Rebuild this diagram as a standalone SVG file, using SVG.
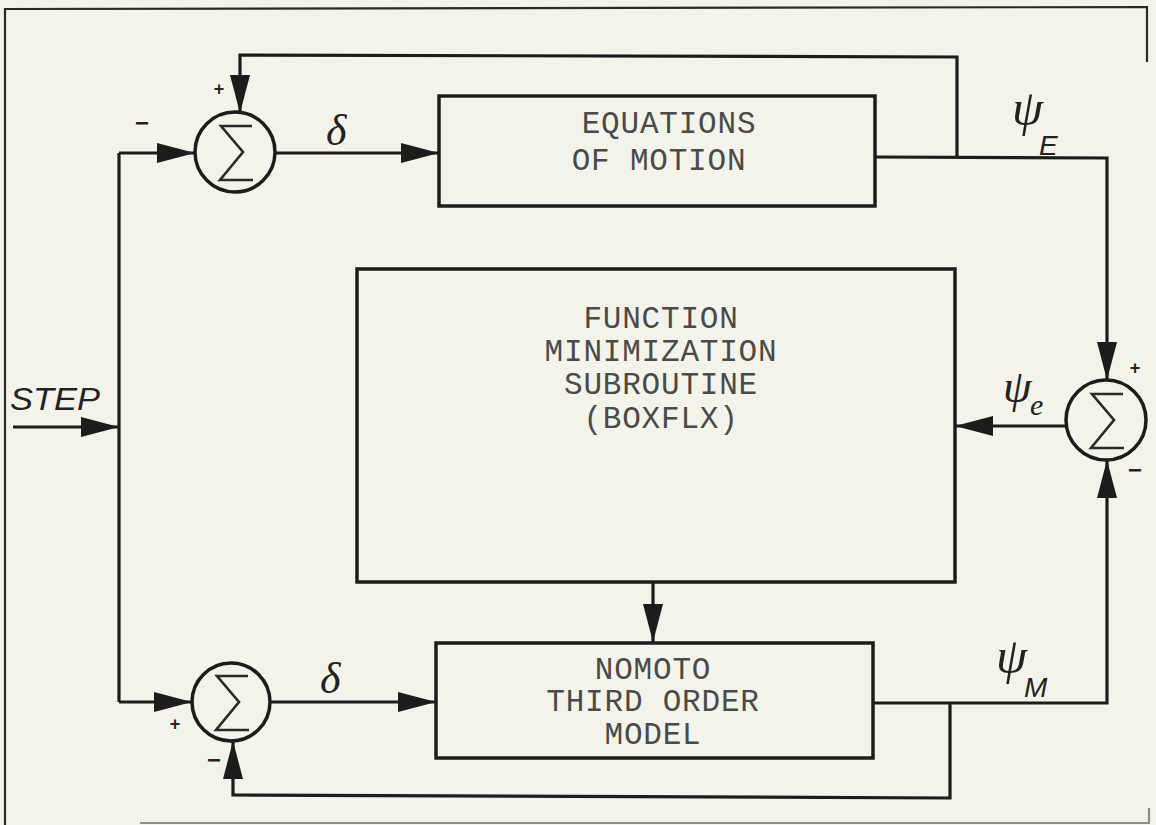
<svg xmlns="http://www.w3.org/2000/svg" width="1156" height="825" viewBox="0 0 1156 825">
<style>
.bg{fill:#f3f3e9}
.ln{fill:none;stroke:#1c1c1c;stroke-width:3.2;stroke-linejoin:miter}
.fr{fill:none;stroke:#2a2a2a;stroke-width:2.2}
.box{fill:none;stroke:#1c1c1c;stroke-width:3.5}
.sum{fill:none;stroke:#1c1c1c;stroke-width:3.5}
.sig{fill:none;stroke:#2a2a2a;stroke-width:2.6;stroke-linejoin:miter}
.tw{font-family:"Liberation Mono","DejaVu Sans Mono",monospace;font-size:31px;fill:#4a4a4a;text-anchor:middle;letter-spacing:0.8px}
.hw{font-family:"Liberation Serif","DejaVu Serif",serif;font-style:italic;fill:#222}
.sub{font-family:"Liberation Sans","DejaVu Sans",sans-serif;font-style:italic;fill:#222}
.pm{font-family:"Liberation Sans","DejaVu Sans",sans-serif;fill:#222;text-anchor:middle;font-weight:bold}
</style>
<defs>
<marker id="ah" viewBox="0 0 38 20" refX="38" refY="10" markerWidth="38" markerHeight="20" markerUnits="userSpaceOnUse" orient="auto">
<path d="M0,0 L38,10 L0,20 Z" fill="#1c1c1c"/>
</marker>
<symbol id="sigma" viewBox="-40 -40 80 80" overflow="visible">
<path class="sig" d="M17,-26 L-14,-26 L8,0 L-15,28 L18,28"/>
</symbol>
</defs>
<rect class="bg" x="0" y="0" width="1156" height="825"/>
<!-- frame -->
<path class="fr" d="M5,825 L5,9 L1147,7 L1147,62"/>
<path class="fr" d="M1149,808 L1149,823 L140,823" stroke-opacity="0.5"/>

<g id="connectors">
<path class="ln" d="M13,427 L119,427" marker-end="url(#ah)"/>
<path class="ln" d="M119,153 L119,702"/>
<path class="ln" d="M119,153 L195,153" marker-end="url(#ah)"/>
<path class="ln" d="M119,702 L192,702" marker-end="url(#ah)"/>
<path class="ln" d="M275,153 L439,153" marker-end="url(#ah)"/>
<path class="ln" d="M875,157 L1107,158 L1107,380" marker-end="url(#ah)"/>
<path class="ln" d="M957,157 L957,57 L240,55 L240,113" marker-end="url(#ah)"/>
<path class="ln" d="M1066,426 L955,426" marker-end="url(#ah)"/>
<path class="ln" d="M653,582 L653,642" marker-end="url(#ah)"/>
<path class="ln" d="M270,702 L436,702" marker-end="url(#ah)"/>
<path class="ln" d="M873,703 L1107,703 L1107,460" marker-end="url(#ah)"/>
<path class="ln" d="M950,703 L950,798 L233,795 L233,741" marker-end="url(#ah)"/>
</g>

<g id="sum-top">
<circle class="sum" cx="235" cy="152" r="40"/>
<use href="#sigma" x="195" y="112" width="80" height="80"/>
<text class="pm" x="219" y="95" font-size="18">+</text>
<text class="pm" x="142" y="131" font-size="24">−</text>
</g>

<g id="sum-bottom">
<circle class="sum" cx="231" cy="702" r="39"/>
<use href="#sigma" x="191" y="662" width="80" height="80"/>
<text class="pm" x="175" y="730" font-size="18">+</text>
<text class="pm" x="214" y="768" font-size="24">−</text>
</g>

<g id="sum-right">
<circle class="sum" cx="1106" cy="420" r="40"/>
<use href="#sigma" x="1066" y="380" width="80" height="80"/>
<text class="pm" x="1135" y="374" font-size="18">+</text>
<text class="pm" x="1135" y="478" font-size="24">−</text>
</g>

<g id="equations">
<rect class="box" x="439" y="96" width="436" height="110"/>
<text class="tw" x="669" y="133">EQUATIONS</text>
<text class="tw" x="659" y="170">OF MOTION</text>
</g>

<g id="function">
<rect class="box" x="357" y="269" width="598" height="313"/>
<text class="tw" x="661" y="328">FUNCTION</text>
<text class="tw" x="661" y="361">MINIMIZATION</text>
<text class="tw" x="661" y="394">SUBROUTINE</text>
<text class="tw" x="661" y="428">(BOXFLX)</text>
</g>

<g id="nomoto">
<rect class="box" x="436" y="643" width="437" height="115"/>
<text class="tw" x="653" y="679">NOMOTO</text>
<text class="tw" x="653" y="711">THIRD ORDER</text>
<text class="tw" x="653" y="744">MODEL</text>
</g>

<g id="labels">
<text class="sub" x="10" y="410" font-size="32" textLength="90" lengthAdjust="spacingAndGlyphs">STEP</text>
<text class="hw" x="326" y="145" font-size="44">δ</text>
<text class="hw" x="320" y="693" font-size="44">δ</text>
<text class="hw" x="1012" y="125" font-size="50">ψ</text>
<text class="sub" x="1039" y="155" font-size="28">E</text>
<text class="hw" x="1003" y="402" font-size="46">ψ</text>
<text class="hw" x="1030" y="415" font-size="30">e</text>
<text class="hw" x="996" y="673" font-size="50">ψ</text>
<text class="sub" x="1024" y="697" font-size="28">M</text>
</g>
</svg>
